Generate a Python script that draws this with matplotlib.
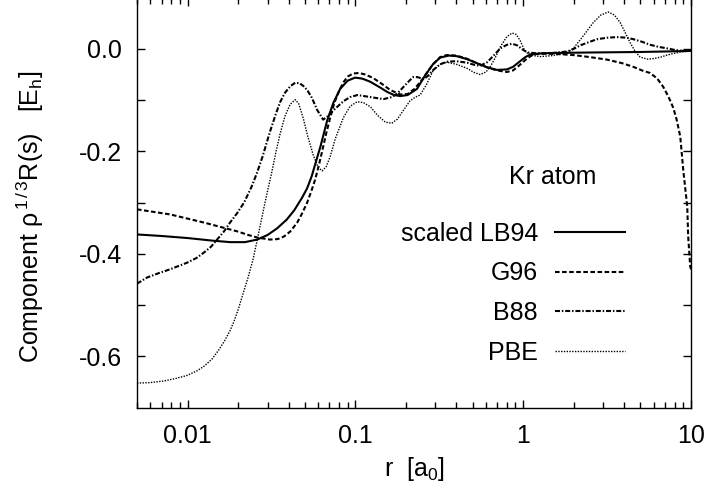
import numpy as np
import matplotlib
matplotlib.use("Agg")
import matplotlib.pyplot as plt
from matplotlib.ticker import FixedLocator, LogLocator, NullFormatter, FixedFormatter

plt.rcParams['font.family'] = ['Liberation Sans', 'DejaVu Sans']
plt.rcParams['mathtext.fontset'] = 'custom'
plt.rcParams['mathtext.rm'] = 'Liberation Sans'
plt.rcParams['mathtext.it'] = 'Liberation Sans:italic'
plt.rcParams['mathtext.bf'] = 'Liberation Sans:bold'
plt.rcParams['axes.unicode_minus'] = False

# Kr atom, component rho^(1/3) R(s)
r_lb94 = [0.005, 0.007, 0.010, 0.014, 0.018, 0.022, 0.026, 0.030, 0.0342, 0.039,
          0.0432, 0.048, 0.0516, 0.055, 0.058, 0.062, 0.0679, 0.074, 0.0812, 0.090,
          0.0997, 0.110, 0.1226, 0.14, 0.155, 0.17, 0.185, 0.205, 0.233, 0.26,
          0.29, 0.32, 0.36, 0.40, 0.464, 0.54, 0.61, 0.70, 0.80, 0.87,
          0.95, 1.03, 1.10, 1.25, 1.45, 2.5, 5.0, 10.0]
v_lb94 = [-0.362, -0.365, -0.369, -0.374, -0.377, -0.377, -0.372, -0.363, -0.350, -0.333,
          -0.315, -0.291, -0.272, -0.248, -0.222, -0.190, -0.140, -0.105, -0.078, -0.062,
          -0.056, -0.058, -0.064, -0.075, -0.084, -0.090, -0.092, -0.090, -0.078, -0.052,
          -0.030, -0.017, -0.013, -0.014, -0.020, -0.029, -0.036, -0.041, -0.040, -0.035,
          -0.025, -0.016, -0.011, -0.009, -0.008, -0.007, -0.006, -0.004]

r_g96 = [0.005, 0.0079, 0.0126, 0.016, 0.0198, 0.023, 0.026, 0.031, 0.0345, 0.0376,
         0.041, 0.045, 0.048, 0.0516, 0.0546, 0.0576, 0.0605, 0.0634, 0.067, 0.071,
         0.075, 0.080, 0.085, 0.09, 0.097, 0.105, 0.115, 0.128, 0.145, 0.161,
         0.185, 0.205, 0.225, 0.25, 0.29, 0.32, 0.35, 0.40, 0.46, 0.54,
         0.61, 0.70, 0.80, 0.87, 0.95, 1.06, 1.15, 1.26, 1.6, 1.99,
         2.5, 3.17, 3.9, 4.53, 5.2, 5.71, 6.3, 6.83, 7.2, 7.52,
         7.84, 8.2, 8.63, 8.99, 9.50, 9.62, 9.89, 10.0]
v_g96 = [-0.313, -0.323, -0.339, -0.348, -0.356, -0.363, -0.368, -0.372, -0.371, -0.366,
         -0.356, -0.339, -0.322, -0.300, -0.278, -0.255, -0.228, -0.200, -0.165, -0.133,
         -0.105, -0.082, -0.065, -0.054, -0.048, -0.047, -0.050, -0.057, -0.069, -0.080,
         -0.089, -0.088, -0.078, -0.060, -0.030, -0.016, -0.012, -0.013, -0.019, -0.029,
         -0.036, -0.042, -0.045, -0.042, -0.032, -0.018, -0.011, -0.009, -0.010, -0.012,
         -0.016, -0.021, -0.028, -0.035, -0.043, -0.047, -0.058, -0.074, -0.088, -0.101,
         -0.115, -0.137, -0.171, -0.236, -0.308, -0.366, -0.424, -0.43]

r_b88 = [0.005, 0.00574, 0.0068, 0.00787, 0.00995, 0.0113, 0.01256, 0.0138, 0.015, 0.0165,
         0.0179, 0.0198, 0.0217, 0.024, 0.026, 0.028, 0.0311, 0.0335, 0.0356, 0.038,
         0.0409, 0.0438, 0.0465, 0.0489, 0.0516, 0.055, 0.0592, 0.0643, 0.068, 0.073,
         0.078, 0.085, 0.093, 0.103, 0.123, 0.147, 0.165, 0.178, 0.195, 0.21,
         0.221, 0.235, 0.254, 0.27, 0.291, 0.32, 0.352, 0.40, 0.464, 0.51,
         0.554, 0.61, 0.663, 0.73, 0.80, 0.86, 0.92, 0.99, 1.06, 1.26,
         1.5, 1.83, 2.0, 2.19, 2.5, 2.76, 3.2, 3.63, 4.1, 4.53,
         5.1, 5.71, 6.4, 7.21, 8.0, 9.0, 10.0]
v_b88 = [-0.458, -0.446, -0.437, -0.430, -0.417, -0.408, -0.397, -0.386, -0.372, -0.356,
         -0.339, -0.320, -0.300, -0.270, -0.241, -0.210, -0.160, -0.128, -0.104, -0.086,
         -0.073, -0.066, -0.067, -0.072, -0.080, -0.095, -0.119, -0.138, -0.132, -0.122,
         -0.113, -0.102, -0.094, -0.090, -0.094, -0.098, -0.094, -0.087, -0.073, -0.062,
         -0.055, -0.055, -0.059, -0.053, -0.041, -0.030, -0.025, -0.024, -0.027, -0.031,
         -0.033, -0.026, -0.014, 0.001, 0.008, 0.010, 0.007, -0.001, -0.007, -0.009,
         -0.008, -0.005, 0.000, 0.007, 0.014, 0.019, 0.022, 0.023, 0.022, 0.019,
         0.014, 0.008, 0.004, 0.001, -0.002, -0.004, -0.004]

r_pbe = [0.005, 0.006, 0.0072, 0.0085, 0.00995, 0.0114, 0.01256, 0.014, 0.0153, 0.0166,
         0.0179, 0.019, 0.0202, 0.0214, 0.023, 0.0246, 0.0262, 0.0279, 0.0298, 0.0318,
         0.0337, 0.0356, 0.038, 0.0409, 0.0438, 0.046, 0.0489, 0.052, 0.0561, 0.060,
         0.0634, 0.067, 0.0708, 0.076, 0.0846, 0.093, 0.1026, 0.112, 0.123, 0.136,
         0.151, 0.165, 0.178, 0.195, 0.212, 0.228, 0.243, 0.265, 0.291, 0.32,
         0.352, 0.40, 0.464, 0.51, 0.554, 0.60, 0.636, 0.68, 0.73, 0.80,
         0.86, 0.91, 0.96, 1.01, 1.056, 1.15, 1.263, 1.5, 1.83, 2.0,
         2.19, 2.4, 2.61, 2.9, 3.21, 3.5, 3.79, 4.05, 4.34, 4.65,
         4.98, 5.5, 5.96, 6.6, 7.21, 8.63, 10.0]
v_pbe = [-0.652, -0.651, -0.648, -0.643, -0.637, -0.628, -0.619, -0.605, -0.588, -0.570,
         -0.550, -0.530, -0.505, -0.478, -0.445, -0.410, -0.368, -0.325, -0.281, -0.240,
         -0.200, -0.166, -0.132, -0.108, -0.099, -0.107, -0.135, -0.170, -0.207, -0.231,
         -0.238, -0.230, -0.210, -0.175, -0.135, -0.112, -0.103, -0.105, -0.113, -0.130,
         -0.143, -0.145, -0.137, -0.118, -0.101, -0.094, -0.090, -0.070, -0.042, -0.030,
         -0.026, -0.030, -0.038, -0.046, -0.050, -0.045, -0.035, -0.018, 0.004, 0.024,
         0.031, 0.028, 0.016, 0.000, -0.008, -0.013, -0.015, -0.013, -0.008, 0.002,
         0.018, 0.035, 0.051, 0.066, 0.072, 0.066, 0.051, 0.032, 0.012, -0.005,
         -0.016, -0.020, -0.019, -0.016, -0.012, -0.006, -0.004]

y_ticks = [0.0, -0.1, -0.2, -0.3, -0.4, -0.5, -0.6]
y_labels = ['0.0', '', '-0.2', '', '-0.4', '', '-0.6']
x_ticks = [0.01, 0.1, 1, 10]
x_labels = ['0.01', '0.1', '1', '10']

fig = plt.figure(figsize=(7.12, 4.92), dpi=100)
ax = fig.add_axes([137 / 712, 1 - 407.7 / 492, 554 / 712, 410.05 / 492])

ax.plot(r_lb94, v_lb94, color='black', lw=1.5, label='scaled LB94')
ax.plot(r_g96, v_g96, color='black', lw=1.5, dashes=(2.2, 1.2), label='G96')
ax.plot(r_b88, v_b88, color='black', lw=1.5, dashes=(2.4, 0.9, 0.7, 0.9), label='B88')
ax.plot(r_pbe, v_pbe, color='black', lw=1.0, dashes=(1, 1), label='PBE')

ax.set_xscale('log')
ax.set_xlim(0.005, 10)
ax.set_ylim(-0.7, 0.1)

ax.xaxis.set_major_locator(FixedLocator(x_ticks))
ax.xaxis.set_major_formatter(FixedFormatter(x_labels))
ax.xaxis.set_minor_locator(LogLocator(base=10, subs=np.arange(2, 10)))
ax.xaxis.set_minor_formatter(NullFormatter())
ax.yaxis.set_major_locator(FixedLocator(y_ticks))
ax.yaxis.set_major_formatter(FixedFormatter(y_labels))

ax.tick_params(which='both', direction='in', top=True, right=True, labelsize=18, width=1.0)
ax.tick_params(which='major', length=5.5)
ax.tick_params(which='minor', length=4)
ax.tick_params(axis='x', pad=12)
ax.tick_params(axis='y', pad=11)
for s in ax.spines.values():
    s.set_linewidth(1.0)

ax.set_xlabel(r'r  [a$_{\mathrm{0}}$]', fontsize=18)
ax.xaxis.set_label_coords(0.5, -0.115)
ax.set_ylabel(r'Component ρ$^{\,\mathrm{1\,/\,3}}$R(s)   [E$_{\mathrm{h}}$]', fontsize=18)
ax.yaxis.set_label_coords(-0.165, 0.466)

ax.legend(loc='upper right', bbox_to_anchor=(625 / 712, 1 - 222 / 492), bbox_transform=fig.transFigure,
          frameon=False, markerfirst=False, fontsize=18, handlelength=2.8, handletextpad=0.68,
          labelspacing=0.62, borderpad=0, borderaxespad=0)
fig.text(553 / 712, 1 - 177 / 492, 'Kr atom', fontsize=18, ha='center', va='center')

fig.savefig('out.png', dpi=100)
